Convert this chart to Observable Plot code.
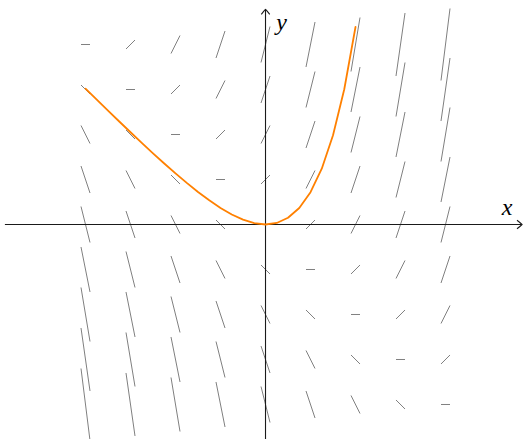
<!DOCTYPE html>
<html>
<head>
<meta charset="utf-8">
<script src="https://cdn.jsdelivr.net/npm/d3@7"></script>
<script src="https://cdn.jsdelivr.net/npm/@observablehq/plot@0.6"></script>
<style>
  html, body { margin: 0; padding: 0; background: #fff; }
  #chart svg { display: block; }
</style>
</head>
<body>
<div id="chart"></div>
<script>
// Slope field grid (dy/dx read at each grid point)
const gridX = [-4, -3, -2, -1, 0, 1, 2, 3, 4];
const gridY = [4, 3, 2, 1, 0, -1, -2, -3, -4];
const slopeRows = [
  [0, 1, 2, 3, 4, 5, 6, 7, 8],
  [-1, 0, 1, 2, 3, 4, 5, 6, 7],
  [-2, -1, 0, 1, 2, 3, 4, 5, 6],
  [-3, -2, -1, 0, 1, 2, 3, 4, 5],
  [-4, -3, -2, -1, 0, 1, 2, 3, 4],
  [-5, -4, -3, -2, -1, 0, 1, 2, 3],
  [-6, -5, -4, -3, -2, -1, 0, 1, 2],
  [-7, -6, -5, -4, -3, -2, -1, 0, 1],
  [-8, -7, -6, -5, -4, -3, -2, -1, 0]
];
const halfDx = 0.1;

// Solution curve samples
const curveX = [-4, -3.75, -3.5, -3.25, -3, -2.75, -2.5, -2.25, -2, -1.75, -1.5, -1.25, -1,
                -0.75, -0.5, -0.25, 0, 0.25, 0.5, 0.75, 1, 1.25, 1.5, 1.75, 2];
const curveY = [3.018, 2.774, 2.530, 2.289, 2.050, 1.814, 1.582, 1.355, 1.135, 0.924, 0.723, 0.537, 0.368,
                0.222, 0.107, 0.029, 0, 0.034, 0.149, 0.367, 0.718, 1.240, 1.982, 3.005, 4.389];

const xDomain = [-5.889, 5.733];
const yDomain = [-4.778, 4.978];
const xStart = -5.78;
const xTip = 5.70;
const yTip = 4.78;

const segments = [];
gridY.forEach((gy, i) => gridX.forEach((gx, j) => {
  segments.push({x: gx, y: gy, s: slopeRows[i][j]});
}));
const curve = curveX.map((x, i) => ({x, y: curveY[i]}));

const chevronRight = {
  draw(ctx) {
    ctx.moveTo(-5, -4.2);
    ctx.quadraticCurveTo(-1.2, -1.2, 0, 0);
    ctx.quadraticCurveTo(-1.2, 1.2, -5, 4.2);
  }
};
const chevronUp = {
  draw(ctx) {
    ctx.moveTo(-4.2, 5);
    ctx.quadraticCurveTo(-1.2, 1.2, 0, 0);
    ctx.quadraticCurveTo(1.2, 1.2, 4.2, 5);
  }
};

const plot = Plot.plot({
  width: 523,
  height: 439,
  margin: 0,
  x: {domain: xDomain, axis: null},
  y: {domain: yDomain, axis: null},
  marks: [
    Plot.link(segments, {
      x1: d => d.x - halfDx, y1: d => d.y - halfDx * d.s,
      x2: d => d.x + halfDx, y2: d => d.y + halfDx * d.s,
      stroke: "#808080", strokeWidth: 1
    }),
    Plot.ruleY([0], {x1: xStart, x2: xTip, stroke: "#1a1a1a", strokeWidth: 1.1}),
    Plot.ruleX([0], {y1: yDomain[0], y2: yTip, stroke: "#1a1a1a", strokeWidth: 1.1}),
    Plot.dot([0], {x: xTip, y: 0, symbol: chevronRight, stroke: "#1a1a1a", fill: "none", strokeWidth: 1.1, r: 4}),
    Plot.dot([0], {x: 0, y: yTip, symbol: chevronUp, stroke: "#1a1a1a", fill: "none", strokeWidth: 1.1, r: 4}),
    Plot.line(curve, {x: "x", y: "y", stroke: "#ff8000", strokeWidth: 1.8}),
    Plot.text(["x"], {x: 5.367, y: 0.222, text: d => d, lineAnchor: "bottom", textAnchor: "middle",
      fontFamily: "Liberation Serif", fontStyle: "italic", fontSize: 24, fill: "#000"}),
    Plot.text(["y"], {x: 0.356, y: 4.333, text: d => d, lineAnchor: "bottom", textAnchor: "middle",
      fontFamily: "Liberation Serif", fontStyle: "italic", fontSize: 24, fill: "#000"})
  ]
});
document.getElementById("chart").appendChild(plot);
</script>
</body>
</html>
